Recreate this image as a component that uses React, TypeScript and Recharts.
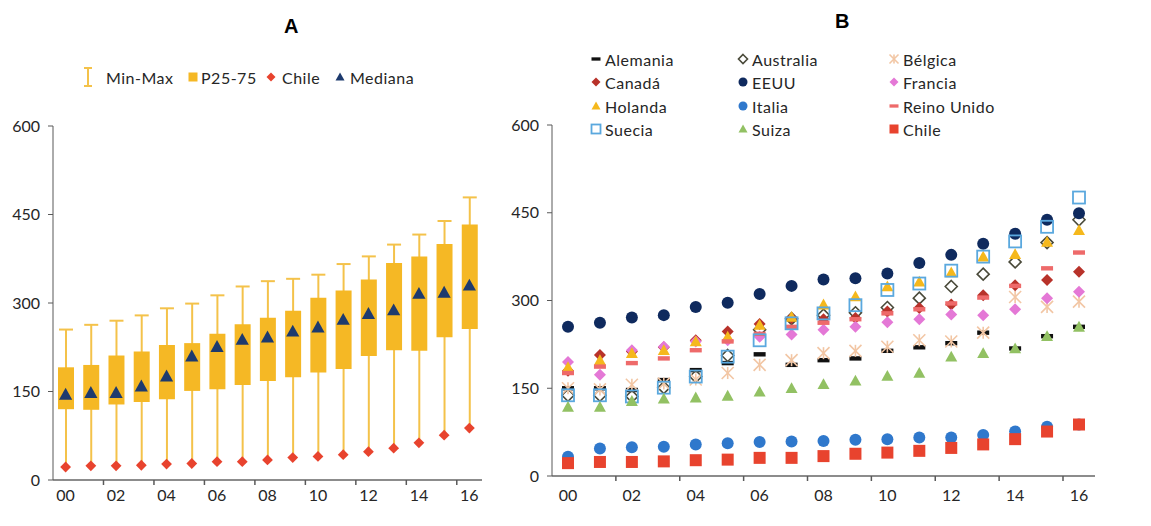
import React from "react";
import { ComposedChart, Bar, Line, XAxis, YAxis } from "recharts";

// años 2000-2016
const years = ["00", "01", "02", "03", "04", "05", "06", "07", "08", "09", "10", "11", "12", "13", "14", "15", "16"];
const yTicks = [0, 150, 300, 450, 600];

// Panel A: distribución
const minA = [22, 24, 24, 25, 27, 28, 31, 31, 34, 38, 40, 43, 48, 54, 63, 76, 88];
const maxA = [255, 263, 270, 279, 291, 299, 313, 328, 337, 341, 348, 366, 379, 399, 416, 439, 479];
const p25 = [120, 119, 128, 132, 137, 151, 154, 161, 168, 174, 182, 188, 210, 220, 219, 242, 256];
const p75 = [191, 195, 211, 218, 229, 232, 248, 264, 275, 287, 309, 321, 340, 368, 379, 400, 433];
const mediana = [145, 148, 148, 159, 176, 210, 226, 238, 242, 252, 259, 272, 282, 288, 316, 318, 330];
const chile = [22, 24, 24, 25, 27, 28, 31, 31, 34, 38, 40, 43, 48, 54, 63, 76, 88];

// Panel B: países
const alemania = [150, 150, 147, 164, 181, 193, 208, 190, 198, 201, 214, 220, 227, 245, 218, 239, 255];
const australia = [138, 138, 136, 151, 170, 206, 250, 269, 275, 279, 288, 304, 324, 345, 366, 399, 438];
const belgica = [150, 148, 156, 158, 165, 176, 190, 198, 210, 214, 221, 232, 230, 245, 306, 289, 298];
const canada = [180, 207, 213, 220, 232, 247, 260, 270, 268, 270, 281, 287, 293, 309, 326, 335, 349];
const eeuu = [255, 262, 271, 275, 289, 296, 311, 325, 336, 338, 346, 364, 378, 397, 414, 438, 449];
const francia = [195, 173, 215, 221, 230, 232, 238, 242, 250, 255, 263, 268, 276, 275, 285, 304, 315];
const holanda = [186, 198, 210, 215, 230, 238, 258, 272, 293, 307, 324, 332, 348, 375, 379, 400, 420];
const italia = [33, 47, 49, 50, 54, 56, 58, 59, 60, 62, 63, 66, 66, 70, 76, 84, 88];
const reinoUnido = [176, 187, 193, 201, 215, 230, 243, 255, 262, 268, 278, 285, 295, 305, 325, 355, 382];
const suecia = [138, 138, 136, 151, 170, 204, 232, 261, 278, 292, 318, 329, 351, 375, 401, 426, 476];
const suiza = [118, 118, 128, 132, 134, 137, 144, 150, 157, 163, 171, 176, 204, 210, 218, 239, 255];

const FONT = "Lato, 'Open Sans', sans-serif";
const AXIS = "#595959";
const WHISKER = "#f4c24a";

type Kind = "dash" | "diamondOpen" | "asterisk" | "diamond" | "circle" | "triangle" | "square" | "squareOpen";

function Marker({ kind, color, cx, cy, s = 1 }: { kind: Kind; color: string; cx: number; cy: number; s?: number }) {
  const r = 6 * s;
  if (kind === "dash") return <rect x={cx - r} y={cy - 2.2 * s} width={2 * r} height={4.4 * s} fill={color} />;
  if (kind === "circle") return <circle cx={cx} cy={cy} r={r} fill={color} />;
  if (kind === "square") return <rect x={cx - r} y={cy - r} width={2 * r} height={2 * r} fill={color} />;
  if (kind === "squareOpen")
    return <rect x={cx - r} y={cy - r} width={2 * r} height={2 * r} fill="none" stroke={color} strokeWidth={1.8} />;
  if (kind === "diamond")
    return <path d={`M${cx},${cy - r}L${cx + r},${cy}L${cx},${cy + r}L${cx - r},${cy}Z`} fill={color} />;
  if (kind === "diamondOpen")
    return <path d={`M${cx},${cy - r}L${cx + r},${cy}L${cx},${cy + r}L${cx - r},${cy}Z`} fill="none" stroke={color} strokeWidth={1.6} />;
  if (kind === "triangle")
    return <path d={`M${cx},${cy - r}L${cx + r},${cy + r * 0.8}L${cx - r},${cy + r * 0.8}Z`} fill={color} />;
  // asterisco
  return (
    <g stroke={color} strokeWidth={1.6}>
      <line x1={cx - r} y1={cy - r} x2={cx + r} y2={cy + r} />
      <line x1={cx - r} y1={cy + r} x2={cx + r} y2={cy - r} />
      <line x1={cx} y1={cy - r} x2={cx} y2={cy + r} />
    </g>
  );
}

const seriesB: { key: string; name: string; data: number[]; kind: Kind; color: string }[] = [
  { key: "alemania", name: "Alemania", data: alemania, kind: "dash", color: "#111111" },
  { key: "australia", name: "Australia", data: australia, kind: "diamondOpen", color: "#4a4a3a" },
  { key: "belgica", name: "Bélgica", data: belgica, kind: "asterisk", color: "#f2c6a4" },
  { key: "canada", name: "Canadá", data: canada, kind: "diamond", color: "#b8322a" },
  { key: "eeuu", name: "EEUU", data: eeuu, kind: "circle", color: "#0f2a5e" },
  { key: "francia", name: "Francia", data: francia, kind: "diamond", color: "#e478d6" },
  { key: "holanda", name: "Holanda", data: holanda, kind: "triangle", color: "#f5b81c" },
  { key: "italia", name: "Italia", data: italia, kind: "circle", color: "#2f78cc" },
  { key: "reino", name: "Reino Unido", data: reinoUnido, kind: "dash", color: "#ee6a6a" },
  { key: "suecia", name: "Suecia", data: suecia, kind: "squareOpen", color: "#5aa8de" },
  { key: "suiza", name: "Suiza", data: suiza, kind: "triangle", color: "#92c163" },
  { key: "chile", name: "Chile", data: chile, kind: "square", color: "#e8432e" },
];

const rowsA = years.map((y, i) => ({
  year: y,
  minmax: [minA[i], maxA[i]],
  box: [p25[i], p75[i]],
  chile: chile[i],
  mediana: mediana[i],
}));

const rowsB = years.map((y, i) => {
  const row: Record<string, string | number> = { year: y };
  seriesB.forEach((s) => (row[s.key] = s.data[i]));
  return row;
});

const tickStyle = { fontFamily: FONT, fontSize: 16, fill: "#262626" };

// etiqueta del eje X con marca corta entre categorías (como en Excel)
function makeXTick(margin: number, halfBand: number) {
  return (p: any) => {
    const axisY = p.y - margin;
    return (
      <g>
        {p.index > 0 && (
          <line x1={p.x - halfBand} y1={axisY} x2={p.x - halfBand} y2={axisY + 5} stroke={AXIS} strokeWidth={1.5} />
        )}
        <text x={p.x} y={p.y} dy="0.71em" textAnchor="middle" fontFamily={FONT} fontSize={16} fill="#262626">
          {p.payload.value}
        </text>
      </g>
    );
  };
}

function Whisker(props: any) {
  const { x, y, width, height } = props;
  const cx = x + width / 2;
  return (
    <g stroke={WHISKER} strokeWidth={2}>
      <line x1={cx} y1={y} x2={cx} y2={y + height} />
      <line x1={cx - 7} y1={y} x2={cx + 7} y2={y} />
    </g>
  );
}

function dotOf(kind: Kind, color: string, s = 1) {
  return (p: any) => <Marker key={p.index} kind={kind} color={color} cx={p.cx} cy={p.cy} s={s} />;
}

function LegendItem({ kind, color, label, x, y, gap = 3, s = 0.75 }: any) {
  return (
    <div style={{ position: "absolute", left: x, top: y - 11, height: 22, display: "flex", alignItems: "center", whiteSpace: "nowrap" }}>
      <svg width={12} height={kind === "ibar" ? 22 : 12} style={{ marginRight: gap }}>
        {kind === "ibar" ? (
          <g stroke={WHISKER} strokeWidth={2}>
            <line x1={6} y1={2} x2={6} y2={20} />
            <line x1={2} y1={2} x2={10} y2={2} />
            <line x1={2} y1={20} x2={10} y2={20} />
          </g>
        ) : (
          <Marker kind={kind} color={color} cx={6} cy={6} s={s} />
        )}
      </svg>
      <span style={{ fontFamily: FONT, fontSize: 16, letterSpacing: 0.5, color: "#262626" }}>{label}</span>
    </div>
  );
}

function ChartA() {
  return (
    <ComposedChart width={500} height={526} data={rowsA} margin={{ top: 126, right: 18, bottom: 16, left: 0 }}>
      <XAxis
        xAxisId="main"
        dataKey="year"
        interval={1}
        tickLine={false}
        tickSize={0}
        tickMargin={10}
        axisLine={{ stroke: "#8c8c8c", strokeWidth: 2 }}
        tick={makeXTick(10, 12.6)}
      />
      <XAxis xAxisId="w" dataKey="year" hide />
      <YAxis
        width={53}
        domain={[0, 600]}
        ticks={yTicks}
        tickSize={5}
        tickMargin={8}
        axisLine={{ stroke: AXIS }}
        tickLine={{ stroke: AXIS }}
        tick={tickStyle}
      />
      <Bar xAxisId="w" dataKey="minmax" barSize={14} shape={Whisker} isAnimationActive={false} />
      <Bar xAxisId="main" dataKey="box" barSize={16} fill="#f5b825" isAnimationActive={false} />
      <Line xAxisId="main" dataKey="chile" stroke="none" dot={dotOf("diamond", "#e8432e", 0.9)} activeDot={false} isAnimationActive={false} />
      <Line xAxisId="main" dataKey="mediana" stroke="none" dot={dotOf("triangle", "#1d3a6e", 1.1)} activeDot={false} isAnimationActive={false} />
    </ComposedChart>
  );
}

function ChartB() {
  return (
    <ComposedChart width={620} height={526} data={rowsB} margin={{ top: 125, right: 25, bottom: 20, left: 0 }}>
      <XAxis
        dataKey="year"
        interval={1}
        padding={{ left: 16, right: 16 }}
        tickLine={false}
        tickSize={0}
        tickMargin={14}
        axisLine={{ stroke: "#8c8c8c", strokeWidth: 2 }}
        tick={makeXTick(14, 16)}
      />
      <YAxis
        width={52}
        domain={[0, 600]}
        ticks={yTicks}
        tickSize={5}
        tickMargin={8}
        axisLine={{ stroke: AXIS }}
        tickLine={{ stroke: AXIS }}
        tick={tickStyle}
      />
      {seriesB.map((s) => (
        <Line
          key={s.key}
          dataKey={s.key}
          name={s.name}
          stroke="none"
          dot={dotOf(s.kind, s.color)}
          activeDot={false}
          isAnimationActive={false}
        />
      ))}
    </ComposedChart>
  );
}

const legendCols = [590, 737, 888];
const legendRows = [59, 82, 106, 129];

export default function App() {
  return (
    <div style={{ position: "absolute", left: 0, top: 0, width: 1151, height: 526, background: "#fff", overflow: "hidden" }}>
      <div style={{ position: "absolute", left: 0, top: 0 }}>
        <ChartA />
      </div>
      <div style={{ position: "absolute", left: 500, top: 0 }}>
        <ChartB />
      </div>
      <div style={{ position: "absolute", left: 284, top: 15, fontFamily: "'Liberation Sans', Arial, sans-serif", fontWeight: 700, fontSize: 20 }}>A</div>
      <div style={{ position: "absolute", left: 835, top: 10, fontFamily: "'Liberation Sans', Arial, sans-serif", fontWeight: 700, fontSize: 20 }}>B</div>
      <LegendItem kind="ibar" label="Min-Max" x={82} y={77} gap={12} />
      <LegendItem kind="square" color="#f5b825" label="P25-75" x={187} y={77} gap={2} />
      <LegendItem kind="diamond" color="#e8432e" label="Chile" x={265} y={77} gap={5} />
      <LegendItem kind="triangle" color="#1d3a6e" label="Mediana" x={334} y={77} gap={4} />
      {seriesB.map((s, i) => (
        <LegendItem
          key={s.key}
          kind={s.kind}
          color={s.color}
          label={s.name}
          x={legendCols[i % 3]}
          y={legendRows[Math.floor(i / 3)]}
        />
      ))}
    </div>
  );
}
